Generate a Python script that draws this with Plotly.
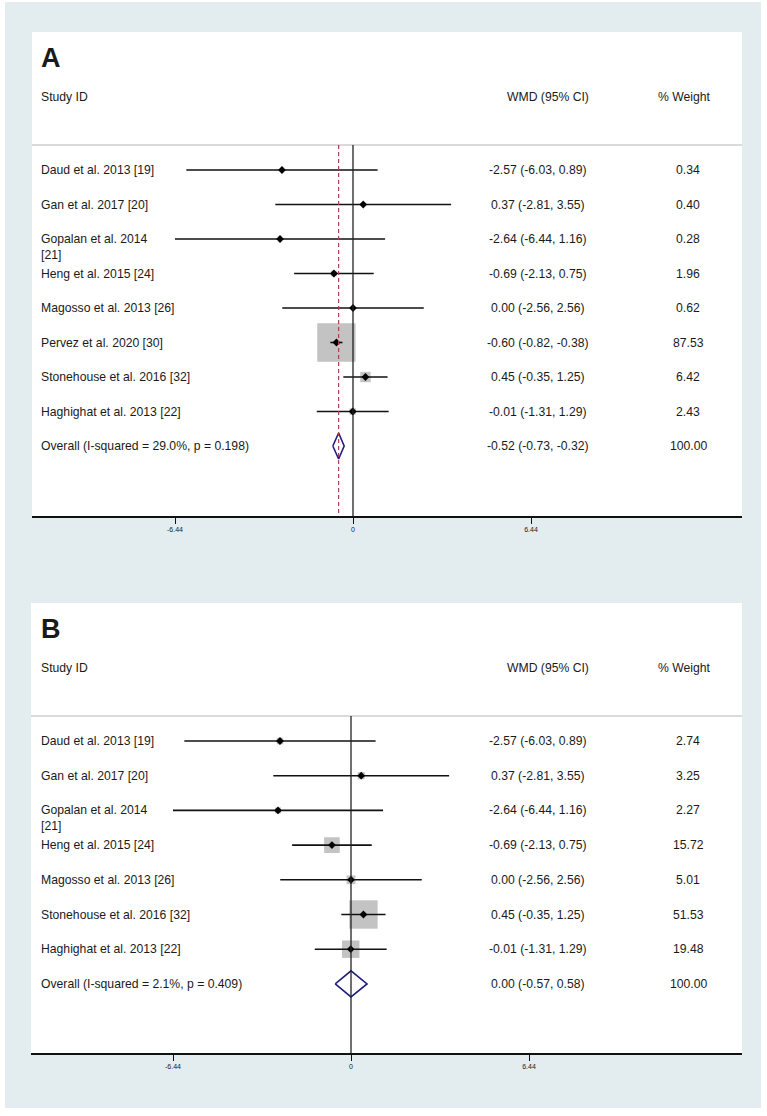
import plotly.graph_objects as go
import math

# ---------------- data ----------------
studies_a = ["Daud et al. 2013 [19]", "Gan et al. 2017 [20]", "Gopalan et al. 2014|[21]",
             "Heng et al. 2015 [24]", "Magosso et al. 2013 [26]", "Pervez et al. 2020 [30]",
             "Stonehouse et al. 2016 [32]", "Haghighat et al. 2013 [22]"]
est_a = [-2.57, 0.37, -2.64, -0.69, 0.00, -0.60, 0.45, -0.01]
lo_a = [-6.03, -2.81, -6.44, -2.13, -2.56, -0.82, -0.35, -1.31]
hi_a = [0.89, 3.55, 1.16, 0.75, 2.56, -0.38, 1.25, 1.29]
wt_a = [0.34, 0.40, 0.28, 1.96, 0.62, 87.53, 6.42, 2.43]
overall_a = {"label": "Overall (I-squared = 29.0%, p = 0.198)", "est": -0.52, "lo": -0.73, "hi": -0.32, "wt": 100.00}

studies_b = ["Daud et al. 2013 [19]", "Gan et al. 2017 [20]", "Gopalan et al. 2014|[21]",
             "Heng et al. 2015 [24]", "Magosso et al. 2013 [26]",
             "Stonehouse et al. 2016 [32]", "Haghighat et al. 2013 [22]"]
est_b = [-2.57, 0.37, -2.64, -0.69, 0.00, 0.45, -0.01]
lo_b = [-6.03, -2.81, -6.44, -2.13, -2.56, -0.35, -1.31]
hi_b = [0.89, 3.55, 1.16, 0.75, 2.56, 1.25, 1.29]
wt_b = [2.74, 3.25, 2.27, 15.72, 5.01, 51.53, 19.48]
overall_b = {"label": "Overall (I-squared = 2.1%, p = 0.409)", "est": 0.00, "lo": -0.57, "hi": 0.58, "wt": 100.00}

tick_vals = [-6.44, 0, 6.44]
tick_text = ["-6.44", "0", "6.44"]

# ---------------- layout constants ----------------
W, H = 767, 1116
BG = "#e3ecee"
TXT = "#1a1a1a"
FONT = "Arial, Liberation Sans, Helvetica, sans-serif"
PX_PER_UNIT = 27.64

def px(x):
    return x / W

def py(y):
    return 1 - y / H

fig = go.Figure()

panels = [
    dict(letter="A", xa="x", ya="y", names=studies_a, est=est_a, lo=lo_a, hi=hi_a, wt=wt_a, ov=overall_a,
         left=32, right=742, top=32, bottom=516, zero_px=353, row0=170, rowh=34.5, dashed=True, boxk=4.1),
    dict(letter="B", xa="x2", ya="y2", names=studies_b, est=est_b, lo=lo_b, hi=hi_b, wt=wt_b, ov=overall_b,
         left=31, right=742, top=603, bottom=1053, zero_px=351, row0=741, rowh=34.7, dashed=False, boxk=3.95),
]

shapes = [dict(type="rect", xref="paper", yref="paper", x0=px(5), x1=px(761), y0=py(1108), y1=py(2),
               fillcolor=BG, line=dict(width=0), layer="below")]
for p in panels:
    shapes.append(dict(type="rect", xref="paper", yref="paper", x0=px(p["left"]), x1=px(p["right"]),
                       y0=py(p["bottom"]), y1=py(p["top"]), fillcolor="white", line=dict(width=0), layer="below"))
annotations = []
layout_axes = {}

COL_WMD = 538
COL_WMD_HDR = 548
COL_WT = 688
COL_WT_HDR = 684

for i, p in enumerate(panels):
    n = len(p["names"])
    rows = list(range(1, n + 1))
    orow = n + 1
    rh = p["rowh"]
    def r_of(ypx, p=p):
        return 1 + (ypx - p["row0"]) / p["rowh"]
    ymin = r_of(p["top"])
    ymax = r_of(p["bottom"])
    xr = [(p["left"] - p["zero_px"]) / PX_PER_UNIT, (p["right"] - p["zero_px"]) / PX_PER_UNIT]
    sep = r_of(p["top"] + (145 - 32))

    suffix = "" if i == 0 else str(i + 1)
    layout_axes["xaxis" + suffix] = dict(
        domain=[px(p["left"]), px(p["right"])], range=xr, anchor="y" + suffix,
        showgrid=False, zeroline=False, showline=True, linecolor="#111", linewidth=1.5,
        ticks="outside", ticklen=6, tickwidth=1.2, tickcolor="#111",
        tickvals=tick_vals, ticktext=tick_text,
        tickfont=dict(size=7, color=TXT, family=FONT), fixedrange=True)
    layout_axes["yaxis" + suffix] = dict(
        domain=[py(p["bottom"]), py(p["top"])], range=[ymax, ymin], anchor="x" + suffix,
        showgrid=False, zeroline=False, showline=False, showticklabels=False, ticks="", fixedrange=True)

    # header separator
    shapes.append(dict(type="line", xref="paper", yref=p["ya"], x0=px(p["left"]), x1=px(p["right"]),
                       y0=sep, y1=sep, line=dict(color="#b5b5b5", width=1)))
    # zero line
    shapes.append(dict(type="line", xref=p["xa"], yref=p["ya"], x0=0, x1=0, y0=sep, y1=ymax,
                       line=dict(color="#222", width=1.3)))
    if p["dashed"]:
        shapes.append(dict(type="line", xref=p["xa"], yref=p["ya"], x0=p["ov"]["est"], x1=p["ov"]["est"],
                           y0=sep, y1=ymax, line=dict(color="#a8405a", width=1.2, dash="4px,3px")))

    # boxes
    fig.add_trace(go.Scatter(x=p["est"], y=rows, mode="markers", xaxis=p["xa"], yaxis=p["ya"],
                             marker=dict(symbol="square", size=[p["boxk"] * math.sqrt(w) for w in p["wt"]],
                                         color="#a9a9a9", line=dict(width=0)),
                             hoverinfo="skip", showlegend=False))
    # CI lines
    xs, ys = [], []
    for r, l, h in zip(rows, p["lo"], p["hi"]):
        xs += [l, h, None]
        ys += [r, r, None]
    fig.add_trace(go.Scatter(x=xs, y=ys, mode="lines", xaxis=p["xa"], yaxis=p["ya"],
                             line=dict(color="#111", width=1.6), hoverinfo="skip", showlegend=False))
    # points
    fig.add_trace(go.Scatter(x=p["est"], y=rows, mode="markers", xaxis=p["xa"], yaxis=p["ya"],
                             marker=dict(symbol="diamond", size=6, color="#000"),
                             hoverinfo="skip", showlegend=False))
    # overall diamond
    ov = p["ov"]
    hd = 13 / rh
    fig.add_trace(go.Scatter(x=[ov["lo"], ov["est"], ov["hi"], ov["est"], ov["lo"]],
                             y=[orow, orow - hd, orow, orow + hd, orow],
                             mode="lines", fill="toself", fillcolor="white",
                             xaxis=p["xa"], yaxis=p["ya"],
                             line=dict(color="#1f1f7a", width=1.6), hoverinfo="skip", showlegend=False))

    # texts
    def txt(x, y, s, anchor="left", size=12.2, bold=False):
        annotations.append(dict(xref="paper", yref=p["ya"], x=px(x), y=y, text=("<b>%s</b>" % s) if bold else s,
                                xanchor=anchor, yanchor="middle", showarrow=False,
                                font=dict(size=size, color=TXT, family=FONT)))
    txt(39, r_of(p["top"] + 26), p["letter"], size=27, bold=True)
    txt(39, r_of(p["top"] + 65), "Study ID")
    txt(COL_WMD_HDR, r_of(p["top"] + 65), "WMD (95% CI)", anchor="center")
    txt(COL_WT_HDR, r_of(p["top"] + 65), "% Weight", anchor="center")
    for r, name, e, l, h, w in zip(rows, p["names"], p["est"], p["lo"], p["hi"], p["wt"]):
        parts = name.split("|")
        txt(39, r, parts[0])
        if len(parts) > 1:
            txt(39, r + 16 / rh, parts[1])
        txt(COL_WMD, r, "%.2f (%.2f, %.2f)" % (e, l, h), anchor="center")
        txt(COL_WT, r, "%.2f" % w, anchor="center")
    txt(39, orow, ov["label"])
    txt(COL_WMD, orow, "%.2f (%.2f, %.2f)" % (ov["est"], ov["lo"], ov["hi"]), anchor="center")
    txt(COL_WT, orow, "%.2f" % ov["wt"], anchor="center")

fig.update_layout(width=W, height=H, autosize=False, margin=dict(l=0, r=0, t=0, b=0),
                  paper_bgcolor="white", plot_bgcolor="rgba(0,0,0,0)",
                  shapes=shapes, annotations=annotations, **layout_axes)

fig.write_html("out.html", config={"displayModeBar": False},
               post_script="document.body.style.margin='0';")
